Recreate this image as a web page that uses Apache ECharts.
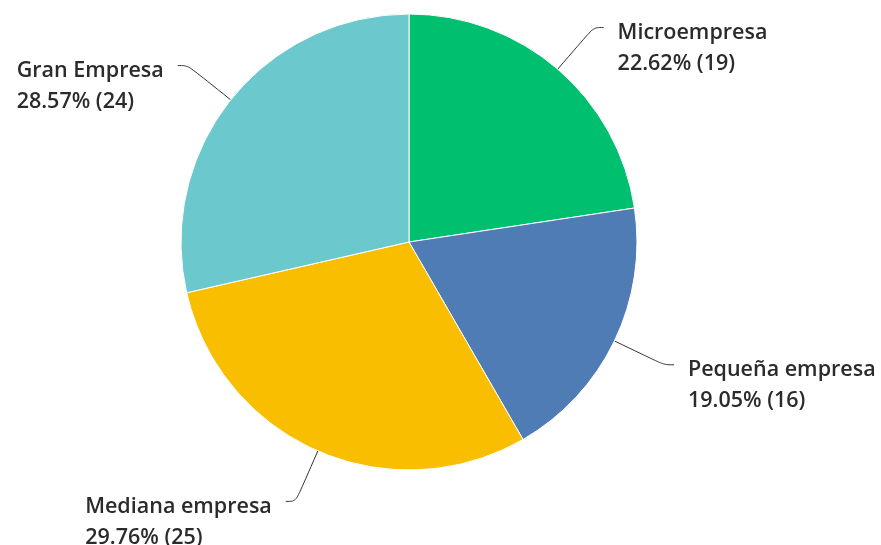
<!DOCTYPE html>
<html>
<head>
<meta charset="utf-8">
<script src="https://cdn.jsdelivr.net/npm/echarts@6/dist/echarts.min.js"></script>
<style>
  html, body { margin: 0; padding: 0; background: #ffffff; }
  #chart { width: 881px; height: 545px; }
</style>
</head>
<body>
<div id="chart"></div>
<script>
// Company size breakdown
const categories = ['Microempresa', 'Pequeña empresa', 'Mediana empresa', 'Gran Empresa'];
const counts = [19, 16, 25, 24];
const colors = ['#00bf6f', '#507cb6', '#f9be00', '#6bc8cd'];

const CENTER = [409, 242];
const LINE_H = 31;
const GAP = 14;
const TEXT_DROP = 5;

const chart = echarts.init(document.getElementById('chart'), null, { renderer: 'canvas' });

chart.setOption({
  animation: false,
  backgroundColor: '#ffffff',
  series: [{
    type: 'pie',
    center: CENTER,
    radius: 228,
    startAngle: 90,
    clockwise: true,
    percentPrecision: 2,
    avoidLabelOverlap: false,
    data: categories.map((name, i) => ({
      name: name,
      value: counts[i],
      itemStyle: { color: colors[i] }
    })),
    itemStyle: { borderColor: '#ffffff', borderWidth: 1 },
    label: {
      show: true,
      position: 'outside',
      formatter: '{b}\n{d}% ({c})',
      color: '#2b2b2b',
      fontFamily: '"Open Sans", sans-serif',
      fontSize: 21.5,
      fontWeight: 600,
      lineHeight: LINE_H
    },
    labelLine: {
      show: true,
      length: 55,
      length2: 10,
      smooth: 0.35,
      lineStyle: { color: '#333333', width: 1 }
    },
    labelLayout: function (p) {
      const pts = p.labelLinePoints;
      if (!pts) return {};
      const end = pts[pts.length - 1];
      const right = end[0] > CENTER[0];
      const w = p.labelRect.width;
      return {
        x: right ? end[0] + GAP : end[0] - GAP - w,
        y: end[1] - LINE_H / 2 + TEXT_DROP,
        align: 'left',
        verticalAlign: 'top',
        labelLinePoints: pts
      };
    },
    emphasis: { disabled: true }
  }]
});
</script>
</body>
</html>
